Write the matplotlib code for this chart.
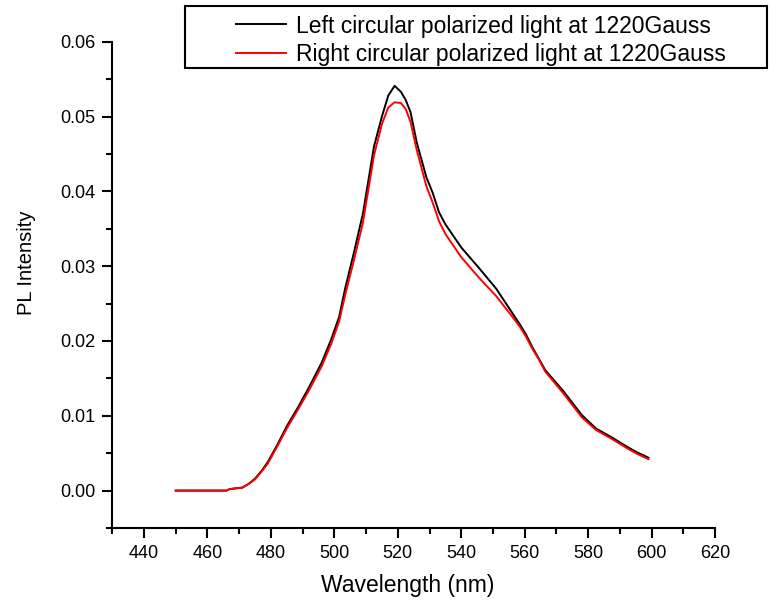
import matplotlib
matplotlib.use('Agg')
import matplotlib.pyplot as plt
from matplotlib.patches import Rectangle

plt.rcParams['font.family'] = ['Liberation Sans', 'DejaVu Sans']

# wavelength grid (nm)
wavelength = [450, 466, 467, 471, 473, 475, 477, 479, 482, 485, 488.5, 492, 496, 499,
              501.5, 503.5, 506, 509, 512.5, 515, 517, 519, 521, 522.5, 524, 526, 529,
              531, 533, 535, 540, 545.5, 551, 556, 558.5, 560.5, 562.5, 564.5, 566.5,
              572, 578, 582.5, 587.5, 592.5, 595.5, 599]

# left circular polarized light
left_pl = [0.0, 0.0, 0.0002, 0.0004, 0.0009, 0.0016, 0.0026, 0.0038, 0.0061, 0.0086,
           0.0111, 0.0138, 0.0171, 0.0202, 0.0232, 0.0272, 0.0315, 0.0370, 0.0460,
           0.0500, 0.0528, 0.0541, 0.0533, 0.0522, 0.0506, 0.0465, 0.0419, 0.0398,
           0.0372, 0.0356, 0.0325, 0.0298, 0.0270, 0.0238, 0.0222, 0.0208, 0.0191,
           0.0176, 0.0161, 0.0134, 0.0101, 0.0083, 0.0071, 0.0058, 0.0051, 0.0044]

# right circular polarized light
right_pl = [0.0, 0.0, 0.0002, 0.0004, 0.0009, 0.0015, 0.0025, 0.0036, 0.0059, 0.0083,
            0.0108, 0.0134, 0.0166, 0.0196, 0.0226, 0.0263, 0.0305, 0.0358, 0.0448,
            0.0490, 0.0512, 0.0519, 0.0518, 0.0510, 0.0493, 0.0455, 0.0407, 0.0385,
            0.0360, 0.0343, 0.0312, 0.0285, 0.0260, 0.0233, 0.0219, 0.0205, 0.0189,
            0.0175, 0.0159, 0.0131, 0.0098, 0.0081, 0.0069, 0.0056, 0.0049, 0.0042]

W, H = 769, 601
fig = plt.figure(figsize=(W / 100, H / 100), dpi=100)
ax = fig.add_axes([112.3 / W, 1 - 528 / H, (715 - 112.3) / W, (528 - 41.7) / H])

ax.plot(wavelength, left_pl, color='black', lw=1.4,
        label='Left circular polarized light at 1220Gauss')
ax.plot(wavelength, right_pl, color='red', lw=1.4,
        label='Right circular polarized light at 1220Gauss')

ax.set_xlim(430, 620)
ax.set_ylim(-0.005, 0.06)
ax.set_xticks(range(440, 621, 20))
ax.set_xticks(range(430, 621, 10), minor=True)
ax.set_yticks([0.0, 0.01, 0.02, 0.03, 0.04, 0.05, 0.06])
ax.set_yticks([-0.005, 0.005, 0.015, 0.025, 0.035, 0.045, 0.055], minor=True)
ax.yaxis.set_major_formatter(matplotlib.ticker.FormatStrFormatter('%.2f'))

for side in ['top', 'right']:
    ax.spines[side].set_visible(False)
for side in ['left', 'bottom']:
    ax.spines[side].set_linewidth(1.5)
ax.tick_params(which='major', direction='out', length=7, width=1.5, labelsize=13, pad=5)
ax.tick_params(which='minor', direction='out', length=4.5, width=1.5)

ax.set_xlabel('Wavelength (nm)', fontsize=16.5)
ax.set_ylabel('PL Intensity', fontsize=14.5)
ax.xaxis.set_label_coords(0.49, -0.094)
ax.yaxis.set_label_coords(-0.127, 0.545)

ax.legend(loc='upper left', bbox_to_anchor=(236 / W, 1 - 14.5 / H),
          bbox_transform=fig.transFigure, frameon=False, fontsize=16.5,
          borderpad=0, borderaxespad=0, handlelength=2.18, handletextpad=0.44,
          labelspacing=0.26)
fig.add_artist(Rectangle((185 / W, 1 - 67.7 / H), (767 - 185) / W, 62 / H,
                         transform=fig.transFigure, fill=False, lw=1.5, ec='black'))

plt.savefig('out.png', dpi=100)
